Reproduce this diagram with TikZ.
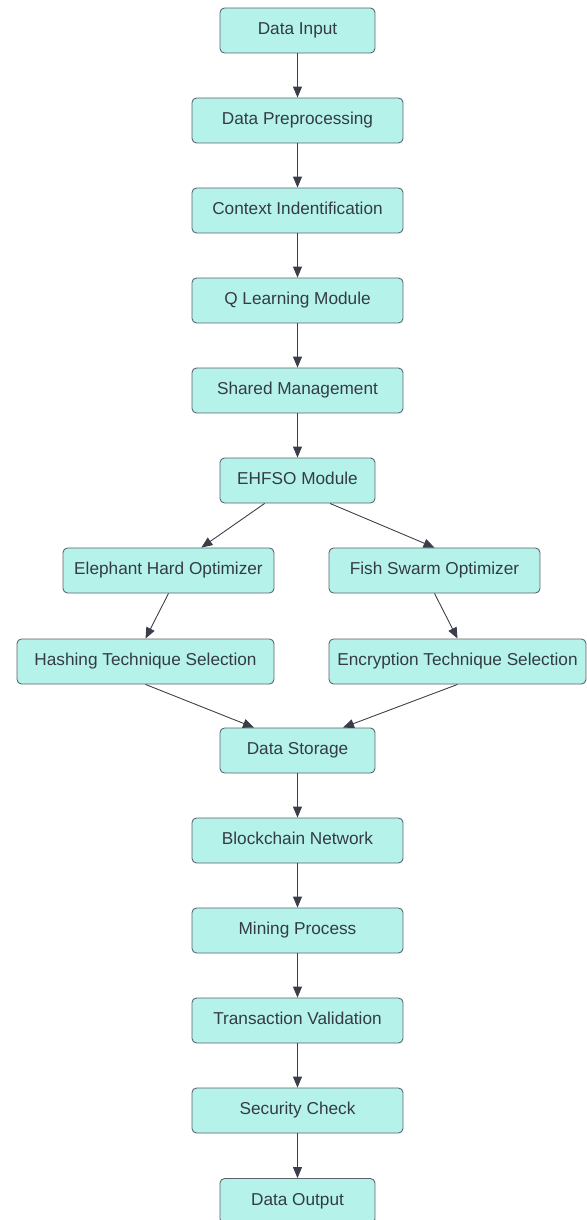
\documentclass[tikz,border=0pt]{standalone}
\usepackage{fontspec}
\setmainfont{Liberation Sans}
\usetikzlibrary{arrows.meta,calc}
\definecolor{boxfill}{RGB}{181,242,234}
\definecolor{boxline}{RGB}{88,98,106}
\definecolor{textgray}{RGB}{52,60,66}
\definecolor{arrowgray}{RGB}{58,62,72}

\begin{document}
\begin{tikzpicture}[
  x=0.02cm, y=-0.02cm,
  box/.style={draw=boxline, line width=0.5pt, rounded corners=0.09cm, fill=boxfill,
              minimum width=#1, minimum height=0.9cm, inner sep=0pt,
              text height=0.7em, text depth=0.24em,
              text=textgray, font=\fontsize{9.8}{12}\selectfont},
  box/.default=4.22cm,
  arrow/.style={-{Triangle[length=0.22cm, width=0.18cm]}, line width=0.5pt, draw=arrowgray}
]
  \useasboundingbox (0,0) rectangle (587,1220);

  % Boxes top to bottom
  \node[box=3.1cm] (input) at (297.5,30.5) {Data Input};
  \node[box] (preproc) at (297.5,120.5) {Data Preprocessing};
  \node[box] (context) at (297.5,210.5) {Context Indentification};
  \node[box] (qlearn) at (297.5,300.5) {Q Learning Module};
  \node[box] (shared) at (297.5,390.5) {Shared Management};
  \node[box=3.1cm] (ehfso) at (297.5,480.5) {EHFSO Module};
  \node[box] (elephant) at (168.5,570.5) {Elephant Hard Optimizer};
  \node[box] (fish) at (434.5,570.5) {Fish Swarm Optimizer};
  \node[box=5.14cm] (hashing) at (145.5,661.5) {Hashing Technique Selection};
  \node[box=5.14cm] (encrypt) at (457.5,661.5) {Encryption Technique Selection};
  \node[box=3.1cm] (storage) at (297.5,750.5) {Data Storage};
  \node[box] (chain) at (297.5,840.5) {Blockchain Network};
  \node[box] (mining) at (297.5,930.5) {Mining Process};
  \node[box] (valid) at (297.5,1020.5) {Transaction Validation};
  \node[box] (security) at (297.5,1110.5) {Security Check};
  \node[box=3.1cm] (output) at (297.5,1201) {Data Output};

  % Arrows
  \foreach \a/\b in {input/preproc, preproc/context, context/qlearn, qlearn/shared,
                     shared/ehfso, storage/chain, chain/mining, mining/valid,
                     valid/security, security/output} {
    \draw[arrow] (\a) -- (\b);
  }
  \draw[arrow] (ehfso) -- (elephant);
  \draw[arrow] ($(ehfso.south)+(32.5,0)$) -- (fish.north);
  \draw[arrow] (elephant.south) -- (hashing.north);
  \draw[arrow] (fish.south) -- (encrypt.north);
  \draw[arrow] (hashing.south) -- ($(storage.north)+(-43.5,0)$);
  \draw[arrow] (encrypt.south) -- ($(storage.north)+(45.5,0)$);
\end{tikzpicture}
\end{document}
